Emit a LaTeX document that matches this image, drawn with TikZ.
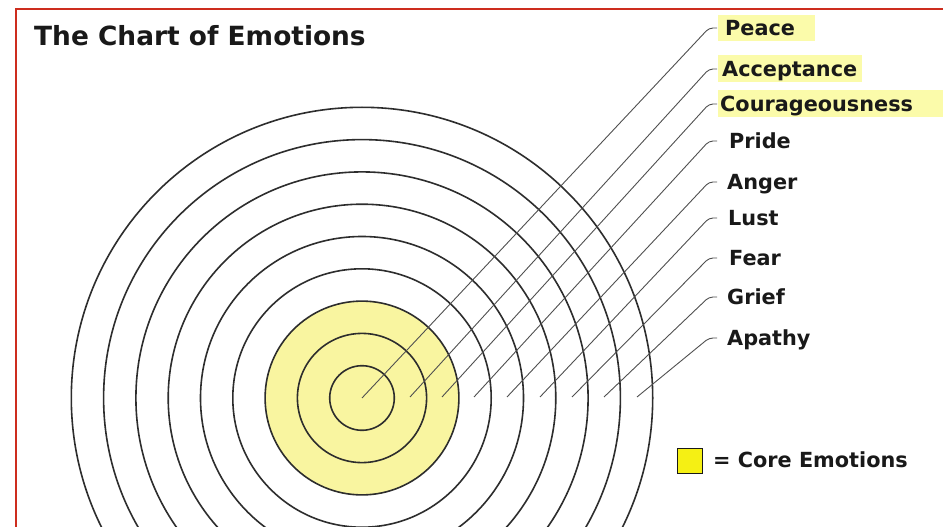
\documentclass[tikz,border=0pt]{standalone}
\usepackage{fontspec}
\setmainfont{DejaVu Sans}
\definecolor{framered}{RGB}{205,45,30}
\definecolor{coreyellow}{RGB}{249,245,160}
\definecolor{hlyellow}{RGB}{251,251,170}
\definecolor{keyyellow}{RGB}{245,240,20}
\definecolor{ink}{RGB}{25,25,25}
\definecolor{ringgray}{RGB}{45,45,45}
\definecolor{leadgray}{RGB}{80,80,80}
\tikzset{
  ring/.style={draw=ringgray, line width=1.6pt},
  leader/.style={draw=leadgray, line width=0.9pt, rounded corners=4pt},
  lbl/.style={anchor=base west, inner sep=0pt, text=ink, font=\fontsize{20.8}{24}\selectfont\bfseries},
  hl/.style={fill=hlyellow},
  keybox/.style={draw=ink, line width=1pt, fill=keyyellow, minimum size=25pt, inner sep=0pt},
}
\begin{document}
\begin{tikzpicture}[x=1pt,y=-1pt]
\useasboundingbox (0,0) rectangle (943,527);
\begin{scope}
\clip (0,0) rectangle (943,527);
\fill[white] (0,0) rectangle (943,527);
% highlights
\fill[hl] (718,15) rectangle (815,41);
\fill[hl] (718,55) rectangle (862,82);
\fill[hl] (718,90) rectangle (943,117);
% target
\coordinate (c) at (362,398);
\fill[coreyellow] (c) circle[radius=96.9pt];
\foreach \k in {1,...,9} \draw[ring] (c) circle[radius=\k*32.3pt];
% leader start points
\coordinate (s1) at (362,398);
\coordinate (s2) at (410,397);
\coordinate (s3) at (442,397);
\coordinate (s4) at (474,397);
\coordinate (s5) at (507,397);
\coordinate (s6) at (540,397);
\coordinate (s7) at (572,397);
\coordinate (s8) at (604,397);
\coordinate (s9) at (637,397);
% labels
\node[lbl] (L1) at (725,35.6) {Peace};
\node[lbl] (L2) at (722,76.6) {Acceptance};
\node[lbl] (L3) at (720,111.6) {Courageousness};
\node[lbl] (L4) at (729,148.6) {Pride};
\node[lbl] (L5) at (727,189.6) {Anger};
\node[lbl] (L6) at (728,225.6) {Lust};
\node[lbl] (L7) at (729,265.6) {Fear};
\node[lbl] (L8) at (727,304.6) {Grief};
\node[lbl] (L9) at (727,345.6) {Apathy};
% bends and tick ends
\foreach \i/\yy in {1/28,2/69,3/104,4/141,5/182,6/218,7/258,8/297,9/338}{
  \coordinate (b\i) at (709,\yy);
  \coordinate (e\i) at (717,\yy);
  \draw[leader] (s\i) -- (b\i) -- (e\i);
}
% title
\node[anchor=base west, inner sep=0pt, text=ink, font=\fontsize{26.4}{31}\selectfont\bfseries] (title) at (34,45.5) {The Chart of Emotions};
% legend
\node[keybox] (key) at (690,460.5) {};
\node[lbl] (keytext) at (713,467.5) {= Core Emotions};
% frame
\draw[framered, line width=2pt] (16,540) -- (16,9) -- (950,9);
\end{scope}
\end{tikzpicture}
\end{document}
